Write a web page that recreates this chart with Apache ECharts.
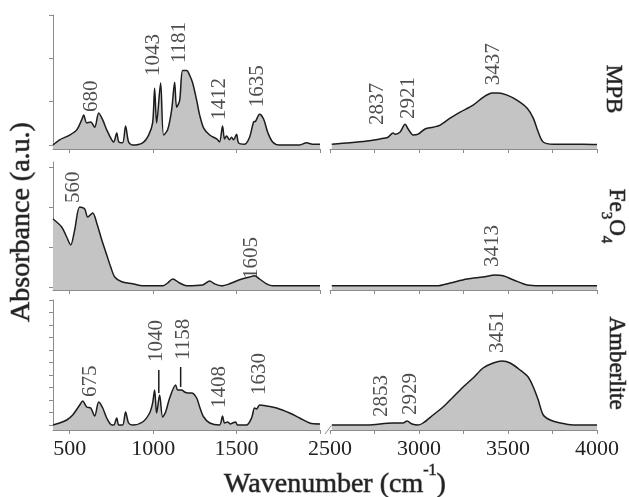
<!DOCTYPE html>
<html>
<head>
<meta charset="utf-8">
<script src="https://cdn.jsdelivr.net/npm/echarts@6/dist/echarts.min.js"></script>
<style>
  html, body { margin: 0; padding: 0; background: #fff; }
  #chart { width: 629px; height: 497px; }
</style>
</head>
<body>
<div id="chart"></div>
<script>
// spectra: [wavenumber (cm-1), absorbance (a.u.)]
const mpbLow = [[400,0],[440,0.12],[500,0.23],[542,0.35],[572,0.58],[584,0.69],[602,0.51],[626,0.53],[650,0.41],[674,0.74],[698,0.58],[722,0.35],[752,0.12],[764,0.07],[782,0.28],[794,0.07],[817,0.05],[835,0.44],[853,0.07],[877,0],[937,0.05],[973,0.23],[997,0.51],[1009,1.31],[1021,0.51],[1045,1.43],[1063,0.23],[1087,0.35],[1111,0.81],[1129,1.45],[1141,0.87],[1159,1.03],[1177,1.72],[1201,1.72],[1219,1.61],[1237,1.43],[1261,1.03],[1279,0.69],[1303,0.39],[1339,0.23],[1381,0.14],[1398,0.07],[1416,0.44],[1428,0.14],[1440,0.21],[1458,0.12],[1470,0.18],[1482,0.12],[1500,0.25],[1512,0.05],[1548,0.02],[1578,0.18],[1602,0.53],[1614,0.55],[1638,0.71],[1662,0.6],[1686,0.3],[1716,0.07],[1758,0],[1878,0],[1919,0.05],[1955,0.02],[2000,0.02]];
const mpbHigh = [[2510,0.02],[2612,0.05],[2708,0.09],[2781,0.14],[2826,0.18],[2854,0.28],[2866,0.25],[2894,0.3],[2922,0.48],[2939,0.37],[2967,0.23],[2995,0.25],[3034,0.37],[3079,0.41],[3119,0.46],[3175,0.62],[3231,0.76],[3304,0.92],[3360,1.1],[3411,1.2],[3445,1.2],[3495,1.15],[3552,1.03],[3608,0.85],[3642,0.62],[3670,0.3],[3698,0.07],[3754,0.02],[3833,0.02],[3923,0.02],[4000,0.01]];

const feLow = [[400,1.7],[452,1.5],[482,1.25],[506,1.05],[530,1.43],[560,2.0],[590,1.95],[608,1.75],[638,1.85],[662,1.6],[692,1.18],[722,0.8],[746,0.5],[770,0.25],[812,0.13],[877,0.08],[937,0.03],[1057,0.03],[1087,0.1],[1117,0.2],[1159,0.1],[1201,0.03],[1297,0.05],[1339,0.15],[1368,0.08],[1410,0.03],[1458,0.08],[1518,0.18],[1578,0.25],[1608,0.28],[1638,0.2],[1680,0.08],[1716,0.03],[2000,0.03]];
const feHigh = [[2510,0.03],[3101,0.03],[3175,0.1],[3270,0.2],[3360,0.25],[3428,0.3],[3473,0.28],[3529,0.18],[3608,0.05],[3681,0.03],[4000,0.03]];

const amLow = [[400,0],[440,0.16],[482,0.4],[518,0.8],[560,1.6],[578,1.92],[602,1.44],[626,1.36],[650,0.72],[674,1.84],[698,1.36],[722,0.56],[752,0],[764,0],[782,0.56],[794,0],[817,0],[835,1.04],[853,0.16],[877,0],[937,0.24],[979,0.96],[997,1.76],[1009,2.8],[1021,0.96],[1039,2.4],[1057,0.64],[1075,1.04],[1099,2.16],[1135,3.2],[1147,2.8],[1171,2.8],[1189,2.64],[1207,2.56],[1231,2.56],[1261,2.16],[1279,1.44],[1303,0.64],[1339,0.16],[1398,0],[1416,0.72],[1428,0.16],[1446,0.24],[1464,0.08],[1476,0.16],[1494,0.24],[1506,0],[1560,0],[1590,0.56],[1608,1.36],[1620,1.28],[1638,1.6],[1680,1.52],[1740,1.36],[1818,0.96],[1878,0.56],[1938,0.16],[2000,0.08]];
const amHigh = [[2510,0],[2708,0],[2854,0.16],[2911,0.16],[2933,0.32],[2961,0.08],[2995,0],[3023,0.16],[3079,0.8],[3135,1.44],[3192,2.24],[3248,3.04],[3304,3.76],[3360,4.56],[3417,4.96],[3467,5.12],[3512,4.96],[3568,4.4],[3613,3.84],[3642,3.04],[3670,2.0],[3698,0.8],[3737,0.4],[3793,0.16],[3866,0],[3945,0],[4000,0]];

// peak annotations: [text, wavenumber, absorbance where the text starts]
const mpbPeaksLow = [['680',632,0.76],['1043',1003,1.59],['1181',1159,1.89],['1412',1399,0.58],['1635',1626,0.87]];
const mpbPeaksHigh = [['2837',2764,0.46],['2921',2939,0.6],['3437',3417,1.38]];
const fePeaksLow = [['560',524,2.1],['1605',1590,0.2]];
const fePeaksHigh = [['3413',3411,0.5]];
const amPeaksLow = [['675',626,2.24],['1040',1021,5.04],['1158',1183,5.2],['1408',1399,1.36],['1630',1638,2.4]];
const amPeaksHigh = [['2853',2792,0.64],['2929',2950,0.8],['3451',3439,5.76]];
// leader lines under two Amberlite labels
const amLeaders = [[[1034,2.56],[1034,4.4]], [[1165,3.04],[1165,4.64]]];

const lowTicks = [500, 1000, 1500, 2000];
const lowLabels = [500, 1000, 1500];
const highTicks = [2500, 2750, 3000, 3250, 3500, 3750, 4000];
const highLabels = [2500, 3000, 3500, 4000];

const font = '"Liberation Serif", "Times New Roman", serif';
const axisColor = '#8c8c8c';
const ink = '#1c1c1c';
const fillColor = '#c4c4c4';

const panels = [
  { low: mpbLow, high: mpbHigh, pLow: mpbPeaksLow, pHigh: mpbPeaksHigh, top: 15, bottom: 149, min: -0.092, max: 3, ticks: [0,1,2,3] },
  { low: feLow, high: feHigh, pLow: fePeaksLow, pHigh: fePeaksHigh, top: 162, bottom: 290, min: -0.075, max: 3.125, ticks: [0,1,2,3] },
  { low: amLow, high: amHigh, pLow: amPeaksLow, pHigh: amPeaksHigh, top: 300, bottom: 430, min: -0.4, max: 10, ticks: [0,1,2,3,4,5,6,7,8,9,10] }
];

const chart = echarts.init(document.getElementById('chart'), null, { renderer: 'canvas' });

const grid = [], xAxis = [], yAxis = [], series = [];

panels.forEach((p, i) => {
  const last = i === panels.length - 1;
  [[53, 320, 400, 2000, lowTicks, lowLabels, p.low, p.pLow],
   [330, 597, 2500, 4000, highTicks, highLabels, p.high, p.pHigh]].forEach((s, j) => {
    const idx = grid.length;
    grid.push({ left: s[0], width: s[1] - s[0], top: p.top, height: p.bottom - p.top });
    xAxis.push({
      type: 'value', gridIndex: idx, min: s[2], max: s[3],
      axisLine: { onZero: false, lineStyle: { color: axisColor, width: 1 } },
      axisTick: { show: true, length: 4, customValues: s[4], lineStyle: { color: axisColor } },
      axisLabel: { show: last, customValues: s[5], margin: 8, color: '#222', fontFamily: font, fontSize: 22,
        formatter: v => String(v) },
      splitLine: { show: false }
    });
    yAxis.push({
      type: 'value', gridIndex: idx, min: p.min, max: p.max,
      show: j === 0,
      axisLine: { show: true, onZero: false, lineStyle: { color: axisColor, width: 1 } },
      axisTick: { show: true, length: 4, customValues: p.ticks, lineStyle: { color: axisColor } },
      axisLabel: { show: false },
      splitLine: { show: false }
    });
    series.push({
      type: 'line', xAxisIndex: idx, yAxisIndex: idx, data: s[6],
      showSymbol: false, smooth: 0.3, silent: true,
      lineStyle: { color: ink, width: 1.5 },
      areaStyle: { color: fillColor, opacity: 1, origin: 'start' }
    });
    series.push({
      type: 'scatter', xAxisIndex: idx, yAxisIndex: idx, symbolSize: 0, silent: true,
      data: s[7].map(d => ({ name: d[0], value: [d[1], d[2]] })),
      label: {
        show: true, formatter: '{b}', position: [0, 0], rotate: 90,
        align: 'left', verticalAlign: 'middle',
        color: '#222', fontFamily: font, fontSize: 21
      }
    });
    if (last && j === 0) {
      amLeaders.forEach(l => series.push({
        type: 'line', xAxisIndex: idx, yAxisIndex: idx, data: l, showSymbol: false, silent: true,
        lineStyle: { color: ink, width: 1.5 }
      }));
    }
  });
});

chart.setOption({
  animation: false,
  backgroundColor: '#fff',
  grid, xAxis, yAxis, series,
  graphic: [
    { type: 'text', x: 22, y: 222, rotation: Math.PI / 2,
      style: { text: 'Absorbance (a.u.)', fontFamily: font, fontSize: 28, fill: '#222', align: 'center', verticalAlign: 'middle' } },
    { type: 'text', x: 335, y: 481,
      style: { text: '{t|Wavenumber (cm}{s|-1}{t|)}', align: 'center', verticalAlign: 'middle',
        rich: {
          t: { fontFamily: font, fontSize: 28, fill: '#222', padding: [8, 0, 0, 0], verticalAlign: 'bottom' },
          s: { fontFamily: font, fontSize: 16, fill: '#222', verticalAlign: 'top' }
        } } },
    { type: 'text', x: 613, y: 89, rotation: -Math.PI / 2,
      style: { text: 'MPB', fontFamily: font, fontSize: 23, fill: '#222', align: 'center', verticalAlign: 'middle' } },
    { type: 'text', x: 613, y: 216, rotation: -Math.PI / 2,
      style: { text: '{a|Fe}{s|3}{a|O}{s|4}', align: 'center', verticalAlign: 'middle',
        rich: {
          a: { fontFamily: font, fontSize: 23, fill: '#222', padding: [0, 0, 7, 0], verticalAlign: 'top' },
          s: { fontFamily: font, fontSize: 15, fill: '#222', verticalAlign: 'bottom' }
        } } },
    { type: 'text', x: 616, y: 363, rotation: -Math.PI / 2,
      style: { text: 'Amberlite', fontFamily: font, fontSize: 23, fill: '#222', align: 'center', verticalAlign: 'middle' } }
  ]
});

// break marks "//" between the two halves of each x axis
const marks = [];
panels.forEach((p, i) => {
  const a = chart.convertToPixel({ xAxisIndex: 2 * i }, 2000);
  const b = chart.convertToPixel({ xAxisIndex: 2 * i + 1 }, 2500);
  const mid = (a + b) / 2;
  [-3, 3].forEach(dx => marks.push({
    type: 'line', silent: true,
    shape: { x1: mid + dx - 3, y1: p.bottom + 4, x2: mid + dx + 3, y2: p.bottom - 4 },
    style: { stroke: axisColor, lineWidth: 1 }
  }));
});
chart.setOption({ graphic: marks });
</script>
</body>
</html>
